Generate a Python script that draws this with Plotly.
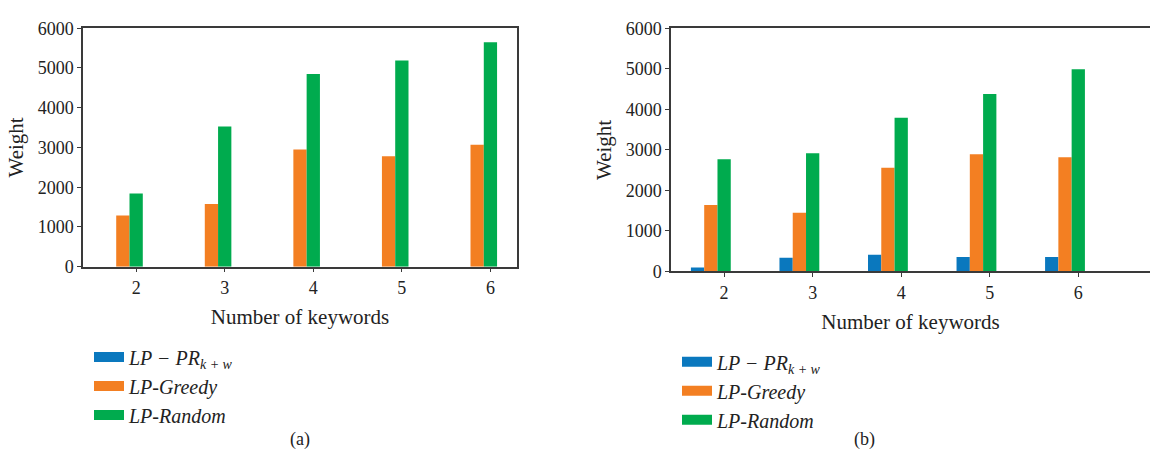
import plotly.graph_objects as go

keywords = [2, 3, 4, 5, 6]
series_names = ["<i>LP − PR<sub>k + w</sub></i>", "<i>LP-Greedy</i>", "<i>LP-Random</i>"]
colors = ["#0A78BE", "#F37F22", "#00AB4E"]

# panel (a)
a_pr = [0, 0, 0, 0, 0]
a_greedy = [1285, 1575, 2950, 2780, 3070]
a_random = [1840, 3525, 4850, 5190, 5645]

# panel (b)
b_pr = [100, 340, 410, 360, 360]
b_greedy = [1640, 1450, 2560, 2890, 2820]
b_random = [2770, 2915, 3790, 4380, 4990]

y_ticks = [0, 1000, 2000, 3000, 4000, 5000, 6000]

W = 0.15
offsets = [-2.5 * W, -1.5 * W, -0.5 * W]
SERIF = "Liberation Serif"
AX = "#3a3a3a"
TXT = "#222"

fig = go.Figure()

panels = [
    ("x", "y", [a_pr, a_greedy, a_random], "legend"),
    ("x2", "y2", [b_pr, b_greedy, b_random], "legend2"),
]
for xa, ya, data, lg in panels:
    for i, vals in enumerate(data):
        fig.add_trace(go.Bar(
            x=keywords, y=vals, xaxis=xa, yaxis=ya,
            width=W, offset=offsets[i],
            marker=dict(color=colors[i], line=dict(width=0)),
            name=series_names[i], showlegend=False,
        ))
    for i in range(3):
        fig.add_trace(go.Scatter(
            x=[None], y=[None], xaxis=xa, yaxis=ya, mode="lines",
            line=dict(color=colors[i], width=13),
            name=series_names[i], legend=lg, showlegend=True,
        ))

axis_common = dict(
    showgrid=False, zeroline=False, showline=True, linecolor=AX, linewidth=1.5,
    ticks="outside", ticklen=4, tickcolor=AX, tickwidth=1,
    tickfont=dict(family=SERIF, size=18, color=TXT),
)
title_font = dict(family=SERIF, size=21, color=TXT)

fig.update_layout(
    width=1150, height=474,
    margin=dict(l=0, r=0, t=0, b=0),
    paper_bgcolor="white", plot_bgcolor="white",
    barmode="overlay",
    xaxis=dict(domain=[83 / 1150, 517 / 1150], range=[1.40, 6.30], tickvals=keywords,
               mirror=True, anchor="y",
               title=dict(text="Number of keywords", font=title_font, standoff=12),
               **axis_common),
    yaxis=dict(domain=[1 - 268 / 474, 1 - 19 / 474], range=[0, 6000], tickvals=y_ticks,
               mirror=True, anchor="x",
               title=dict(text="Weight", font=title_font, standoff=8),
               **axis_common),
    xaxis2=dict(domain=[671 / 1150, 1.0], range=[1.40, 6.81], tickvals=keywords,
                mirror=True, anchor="y2",
                title=dict(text="Number of keywords", font=title_font, standoff=12),
                **axis_common),
    yaxis2=dict(domain=[1 - 273 / 474, 1 - 19 / 474], range=[0, 6000], tickvals=y_ticks,
                mirror=False, anchor="x2",
                title=dict(text="Weight", font=title_font, standoff=8),
                **axis_common),
    legend=dict(x=89 / 1150, y=1 - 342 / 474, xanchor="left", yanchor="top",
                font=dict(family=SERIF, size=20, color=TXT), bgcolor="rgba(0,0,0,0)",
                itemwidth=30, tracegroupgap=0),
    legend2=dict(x=677 / 1150, y=1 - 347 / 474, xanchor="left", yanchor="top",
                 font=dict(family=SERIF, size=20, color=TXT), bgcolor="rgba(0,0,0,0)",
                 itemwidth=30, tracegroupgap=0),
    annotations=[
        dict(text="(a)", x=288 / 1150, y=1 - 461 / 474, xref="paper", yref="paper",
             showarrow=False, font=dict(family=SERIF, size=18, color=TXT)),
        dict(text="(b)", x=877 / 1150, y=1 - 461 / 474, xref="paper", yref="paper",
             showarrow=False, font=dict(family=SERIF, size=18, color=TXT)),
    ],
)

fig.write_html("out.html")
